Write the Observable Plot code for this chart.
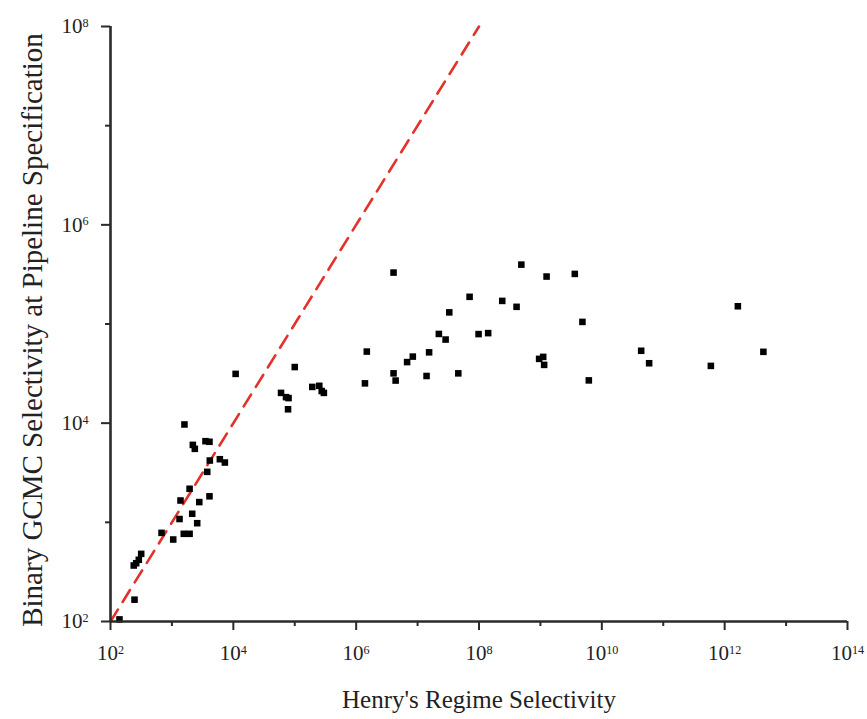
<!DOCTYPE html>
<html>
<head>
<meta charset="utf-8">
<script src="https://cdn.jsdelivr.net/npm/d3@7"></script>
<script src="https://cdn.jsdelivr.net/npm/@observablehq/plot@0.6"></script>
<style>
  html, body { margin: 0; padding: 0; background: #fff; }
  svg { display: block; }
</style>
</head>
<body>
<div id="chart"></div>
<script>
// Henry's regime selectivity (x) vs binary GCMC selectivity (y)
const henrySel = [
  1.6e3, 2.19e3, 2.36e3, 3.52e3, 4.09e3, 4.14e3, 6.03e3, 7.28e3, 3.76e3, 1.94e3,
  1.38e3, 2.79e3, 4.09e3, 1.33e3, 2.14e3, 2.58e3, 678, 1.05e3, 1.56e3, 1.94e3,
  239, 262, 289, 316, 246, 140, 1.09e4, 1.0e5, 5.98e4, 7.21e4,
  7.93e4, 7.78e4, 1.93e5, 2.51e5, 2.75e5, 2.98e5, 1.49e6, 1.39e6, 4.06e6, 4.39e6,
  6.75e6, 8.36e6, 1.54e7, 1.4e7, 2.22e7, 2.86e7, 3.28e7, 4.6e7, 7.03e7, 9.84e7,
  1.41e8, 2.39e8, 4.09e8, 4.89e8, 1.26e9, 9.53e8, 1.11e9, 1.15e9, 3.63e9, 4.83e9,
  6.14e9, 4.37e10, 5.89e10, 5.96e11, 1.64e12, 4.27e12, 4.06e6
];
const gcmcSel = [
  9.7e3, 6.04e3, 5.51e3, 6.58e3, 6.49e3, 4.2e3, 4.33e3, 4.01e3, 3.23e3, 2.18e3,
  1.66e3, 1.6e3, 1.83e3, 1.08e3, 1.22e3, 980, 783, 671, 766, 766,
  367, 387, 419, 481, 166, 105, 3.14e4, 3.68e4, 2.02e4, 1.83e4,
  1.79e4, 1.38e4, 2.32e4, 2.38e4, 2.11e4, 2.02e4, 5.27e4, 2.52e4, 3.18e4, 2.69e4,
  4.13e4, 4.69e4, 5.18e4, 2.99e4, 7.94e4, 6.97e4, 1.31e5, 3.18e4, 1.88e5, 7.91e4,
  8.09e4, 1.71e5, 1.49e5, 3.97e5, 3.01e5, 4.45e4, 4.66e4, 3.87e4, 3.2e5, 1.05e5,
  2.7e4, 5.37e4, 4.02e4, 3.78e4, 1.51e5, 5.24e4, 3.3e5
];
// parity line endpoints
const parityX = [1e2, 1e8];
const parityY = [1e2, 1e8];

// ticks
const xMajorTicks = [1e2, 1e4, 1e6, 1e8, 1e10, 1e12, 1e14];
const xTickLabels = ["10^2", "10^4", "10^6", "10^8", "10^10", "10^12", "10^14"];
const xMinorTicks = [1e3, 1e5, 1e7, 1e9, 1e11, 1e13];
const yMajorTicks = [1e2, 1e4, 1e6, 1e8];
const yTickLabels = ["10^2", "10^4", "10^6", "10^8"];
const yMinorTicks = [1e3, 1e5, 1e7];

const xTitle = "Henry's Regime Selectivity";
const yTitle = "Binary GCMC Selectivity at Pipeline Specification";

const points = henrySel.map((x, i) => ({x, y: gcmcSel[i]}));
const parity = parityX.map((x, i) => ({x, y: parityY[i]}));

const axisColor = "#2a2a2a";

const chart = Plot.plot({
  width: 867,
  height: 719,
  marginLeft: 110,
  marginRight: 20,
  marginTop: 26,
  marginBottom: 98,
  style: {fontFamily: "'Liberation Serif', 'Times New Roman', serif", fontSize: "21px", background: "#fff", color: "#222"},
  x: {type: "log", domain: [1e2, 1e14]},
  y: {type: "log", domain: [1e2, 1e8]},
  marks: [
    Plot.line(parity, {x: "x", y: "y", stroke: "#e2322b", strokeWidth: 2.6, strokeDasharray: "14,9"}),
    Plot.dot(points, {x: "x", y: "y", symbol: "square", r: 3.7, fill: "#000", stroke: null}),
    Plot.ruleY([1e2], {stroke: axisColor, strokeWidth: 2.6}),
    Plot.ruleX([1e2], {stroke: axisColor, strokeWidth: 2.6}),
    Plot.axisX({ticks: xMajorTicks, tickFormat: (d) => xTickLabels[xMajorTicks.indexOf(d)], tickSize: 9, tickPadding: 15, strokeWidth: 2, stroke: axisColor, fill: "#222", label: null}),
    Plot.axisX({ticks: xMinorTicks, tickFormat: () => "", tickSize: 5, strokeWidth: 2, stroke: axisColor, label: null}),
    Plot.axisY({ticks: yMajorTicks, tickFormat: (d) => yTickLabels[yMajorTicks.indexOf(d)], tickSize: 9, tickPadding: 13, strokeWidth: 2, stroke: axisColor, fill: "#222", label: null}),
    Plot.axisY({ticks: yMinorTicks, tickFormat: () => "", tickSize: 5, strokeWidth: 2, stroke: axisColor, label: null}),
    Plot.text([xTitle], {frameAnchor: "bottom", dy: 86, fontSize: 25, fill: "#222"}),
    Plot.text([yTitle], {frameAnchor: "left", textAnchor: "middle", dx: -78, dy: 6, rotate: -90, fontSize: 29, fill: "#222"})
  ]
});

// turn "10^n" tick labels into base + raised exponent
d3.select(chart).selectAll("text").each(function () {
  const t = this.textContent;
  if (!/^10\^\d+$/.test(t)) return;
  const exp = t.split("^")[1];
  const sel = d3.select(this);
  sel.text(null);
  sel.append("tspan").text("10");
  sel.append("tspan").attr("dy", "-0.5em").attr("font-size", "0.58em").text(exp);
});

document.getElementById("chart").appendChild(chart);
</script>
</body>
</html>
